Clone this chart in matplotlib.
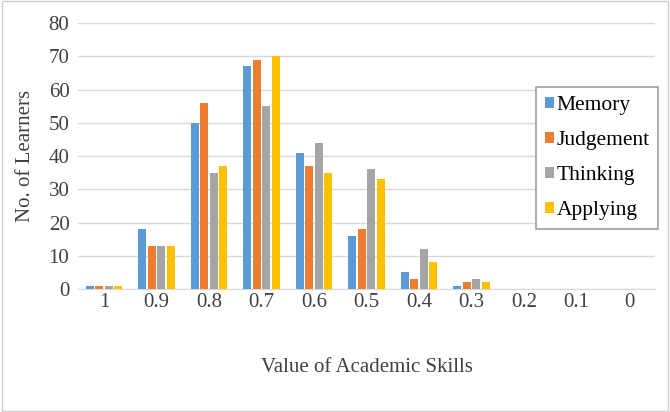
import matplotlib
matplotlib.use("Agg")
import matplotlib.pyplot as plt
import numpy as np
from matplotlib.patches import Rectangle

categories = ["1", "0.9", "0.8", "0.7", "0.6", "0.5", "0.4", "0.3", "0.2", "0.1", "0"]
memory = [1, 18, 50, 67, 41, 16, 5, 1, 0, 0, 0]
judgement = [1, 13, 56, 69, 37, 18, 3, 2, 0, 0, 0]
thinking = [1, 13, 35, 55, 44, 36, 12, 3, 0, 0, 0]
applying = [1, 13, 37, 70, 35, 33, 8, 2, 0, 0, 0]
series_names = ["Memory", "Judgement", "Thinking", "Applying"]
colors = ["#5B9BD5", "#ED7D31", "#A5A5A5", "#FFC000"]

plt.rcParams['font.family'] = ['Liberation Serif', 'DejaVu Serif']

fig = plt.figure(figsize=(6.7, 4.12), dpi=100)
ax = fig.add_axes([0.116, 0.2985, 0.862, 0.6455])

x = np.arange(len(categories))
pitch = 0.18
for i, (vals, name, c) in enumerate(zip([memory, judgement, thinking, applying], series_names, colors)):
    ax.bar(x + (i - 1.5) * pitch, vals, width=0.155, color=c, label=name, zorder=3)

ax.set_xlim(-0.5, len(categories) - 0.5)
ax.set_ylim(0, 80)
ax.set_yticks(range(0, 81, 10))
ax.set_xticks(x)
ax.set_xticklabels(categories)
ax.grid(axis='y', color='#D9D9D9', linewidth=1, zorder=0)
for s in ['top', 'right', 'left']:
    ax.spines[s].set_visible(False)
ax.spines['bottom'].set_color('#D9D9D9')
ax.tick_params(axis='both', length=0, labelsize=15, colors='#404040')
ax.tick_params(axis='x', pad=3)
ax.tick_params(axis='y', pad=6)
ax.set_ylabel("No. of Learners", fontsize=15, color='#404040', labelpad=10)
ax.set_xlabel("Value of Academic Skills", fontsize=15, color='#404040', labelpad=33)

leg = ax.legend(loc='upper left', bbox_to_anchor=(0.794, 0.759), fontsize=15.5,
                handlelength=0.4, handleheight=0.4, handletextpad=0.15,
                labelspacing=0.75, borderpad=0.4, borderaxespad=0, fancybox=False,
                edgecolor='#A0A0A0', framealpha=1)
leg.get_frame().set_linewidth(1.2)

fig.patches.append(Rectangle((0.003, 0.003), 0.994, 0.994, transform=fig.transFigure,
                             fill=False, edgecolor='#D0D0D0', linewidth=1))

fig.savefig("out.png", dpi=100)
